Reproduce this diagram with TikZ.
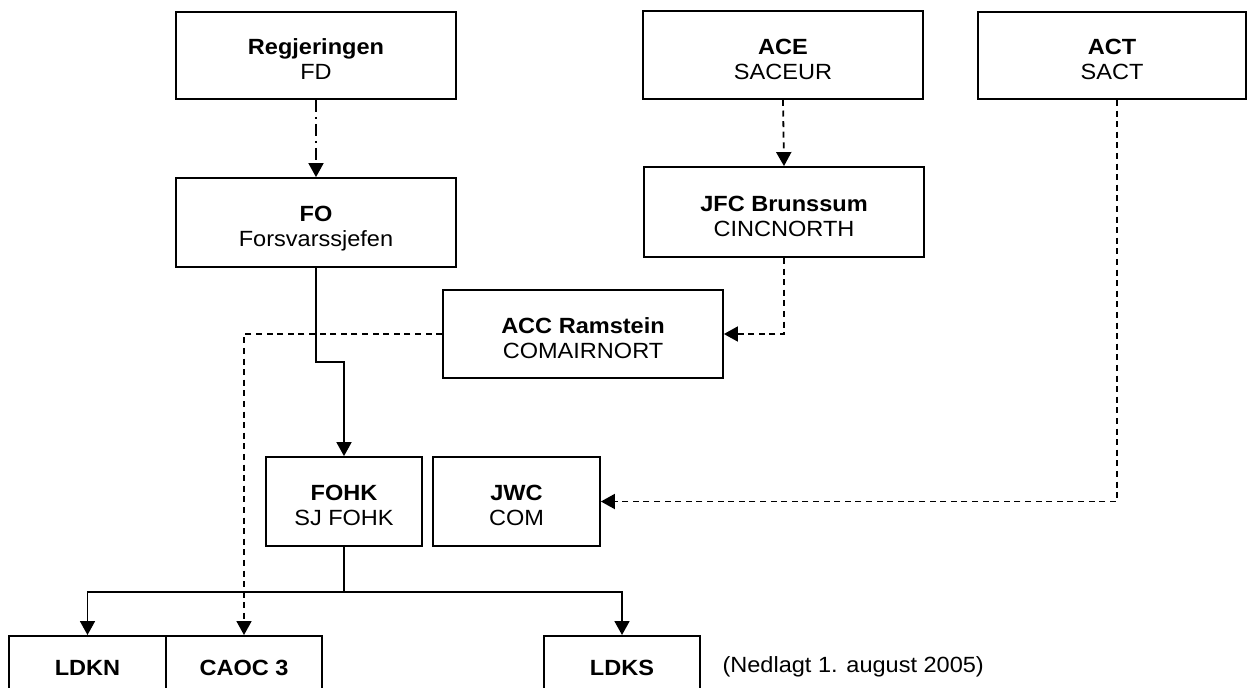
\documentclass[tikz,border=0pt]{standalone}
\usepackage{fontspec}
\setmainfont{Liberation Sans}[FakeStretch=1.07]
\usetikzlibrary{arrows.meta}

\tikzset{
    unit node/.style={rectangle,draw,align=center,inner sep=0pt,minimum width=140pt,minimum height=44.5pt,text height=24pt,text depth=0pt},
    low node/.style={unit node,anchor=north,minimum width=78pt,text height=8pt,text depth=12.6pt},
    link/.style={line width=0.9pt,-{Triangle[length=7pt,width=7.5pt]}},
    nato link/.style={link,dash pattern=on 3pt off 2.3pt},
    gov link/.style={link,dash pattern=on 6pt off 2.5pt on 1pt off 2.5pt}
    }

\begin{document}
\begin{tikzpicture}[x=0.5pt,y=-0.5pt,line width=0.9pt,font=\fontsize{11}{12.5}\selectfont]
                \useasboundingbox (0,0) rectangle (1248,687);
                \clip (0,0) rectangle (1248,687);
                \node(0)[unit node, minimum height=43.5pt] at (316,55.5) {\textbf{Regjeringen}\\FD};
                \node(1)[unit node] at (316,222.5) {\textbf{FO}\\Forsvarssjefen};
                \node(2)[unit node, minimum height=44pt] at (783,55) {\textbf{ACE}\\SACEUR};
                \node(3)[unit node, minimum width=134pt, minimum height=43.5pt] at (1112,55.5) {\textbf{ACT}\\SACT};
                \node(4)[unit node, minimum height=45pt] at (784,212) {\textbf{JFC Brunssum}\\CINCNORTH};
                \node(5)[unit node, minimum height=44pt] at (583,334) {\textbf{ACC Ramstein}\\COMAIRNORT};
                \node(6)[unit node, minimum width=78pt] at (344,501.5) {\textbf{FOHK}\\SJ FOHK};
                \node(7)[unit node, minimum width=83.5pt] at (516.5,501.5) {\textbf{JWC}\\COM};
                \node(8)[low node, minimum width=78.5pt] at (87.5,635) {\textbf{LDKN}};
                \node(9)[low node] at (244,635) {\textbf{CAOC 3}};
                \node(10)[low node] at (622,635) {\textbf{LDKS}};
                \node(11)[anchor=west] at (715,667) {(Nedlagt 1. august 2005)};

                \draw[gov link] (0.south) -- (1.north);
                \draw[nato link] (2.south) -- (4.north);
                \draw[nato link] (4.south) |- (5.east);
                \draw[nato link] ([xshift=2.5pt]3.south) |- (7.east);
                \draw[nato link] (5.west) -| (9.north);
                \draw[link] (1.south) -- (1.south |- 0,362) -| (6.north);
                \draw[link] (6.south) -- ++(0,45) -| (8.north);
                \draw[link] (6.south) ++(0,45) -| (10.north);
            \end{tikzpicture}
\end{document}
